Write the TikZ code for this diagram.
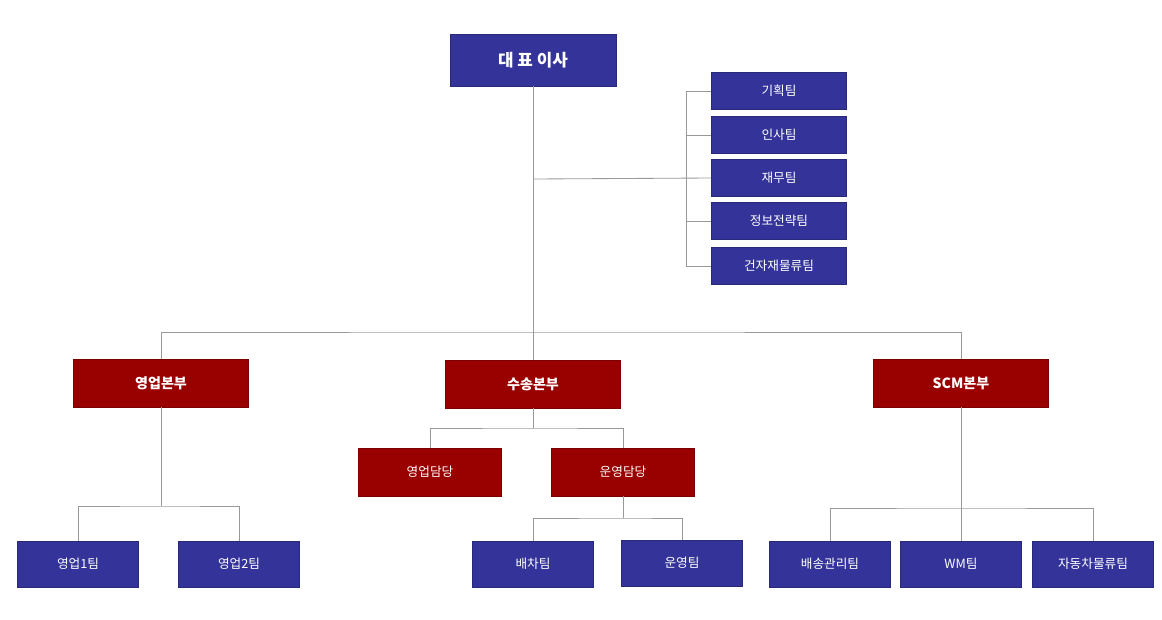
\documentclass[tikz,border=0pt]{standalone}
\usepackage{fontspec}
\setmainfont{Noto Sans CJK KR}
\definecolor{navy}{HTML}{333399}
\definecolor{darkred}{HTML}{990000}
\tikzset{
  box/.style={draw=#1!80!black, fill=#1, text=white, inner sep=0pt, anchor=center},
  ceo/.style={box=navy, minimum width=166*0.025cm, minimum height=52*0.025cm, font=\large\bfseries},
  team/.style={box=navy, minimum width=135*0.025cm, minimum height=37*0.025cm, font=\small},
  sub/.style={box=navy, minimum width=121*0.025cm, minimum height=46*0.025cm, font=\small},
  div/.style={box=darkred, minimum width=175*0.025cm, minimum height=48*0.025cm, font=\bfseries},
  part/.style={box=darkred, minimum width=143*0.025cm, minimum height=48*0.025cm, font=\small},
  link/.style={draw=gray!80, line width=0.6pt}
}
\begin{document}
\begin{tikzpicture}[x=0.025cm, y=-0.025cm]
  \useasboundingbox (0,0) rectangle (1162,619);
  % top
  \node[ceo] (ceo) at (533,60) {대 표 이사};
  \node[team] (plan) at (779,91) {기획팀};
  \node[team] (hr) at (779,135) {인사팀};
  \node[team] (fin) at (779,178) {재무팀};
  \node[team] (info) at (779,221) {정보전략팀};
  \node[team] (mat) at (779,266) {건자재물류팀};
  % divisions
  \node[div] (sales) at (161,383) {영업본부};
  \node[div] (trans) at (533,384) {수송본부};
  \node[div] (scm) at (961,383) {SCM본부};
  \node[part] (salesp) at (430,472) {영업담당};
  \node[part] (oper) at (623,472) {운영담당};
  \node[sub] (s1) at (78,564) {영업1팀};
  \node[sub] (s2) at (239,564) {영업2팀};
  \node[sub] (disp) at (533,564) {배차팀};
  \node[sub] (run) at (682,563) {운영팀};
  \node[sub] (deliv) at (830,564) {배송관리팀};
  \node[sub] (wm) at (961,564) {WM팀};
  \node[sub] (auto) at (1093,564) {자동차물류팀};
  % connectors
  \coordinate (hub) at (533,332);
  \draw[link] (ceo) -- (hub);
  \draw[link] (533,179) -- (fin.west);
  \draw[link] (plan.west) -- (686,91) |- (mat.west);
  \foreach \t in {hr,info} \draw[link] (686,0 |- \t.west) -- (\t.west);
  \draw[link] (sales.north) |- (hub) -| (scm.north);
  \draw[link] (hub) -- (trans);
  \draw[link] (sales) -- (161,506);
  \draw[link] (s1.north) |- (161,506) -| (s2.north);
  \draw[link] (trans) -- (533,428);
  \draw[link] (salesp.north) |- (533,428) -| (oper.north);
  \draw[link] (oper) -- (623,518);
  \draw[link] (disp.north) |- (623,518) -| (run.north);
  \draw[link] (scm) -- (wm);
  \draw[link] (deliv.north) |- (961,508) -| (auto.north);
\end{tikzpicture}
\end{document}
